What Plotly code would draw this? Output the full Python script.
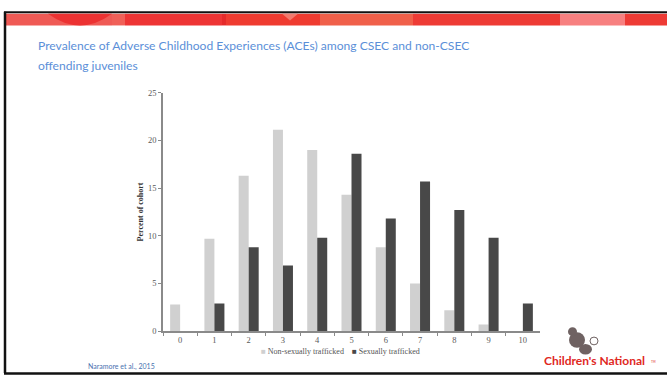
import plotly.graph_objects as go

W, H = 667, 382

categories = ["0", "1", "2", "3", "4", "5", "6", "7", "8", "9", "10"]
non_sex_trafficked = [2.8, 9.7, 16.3, 21.1, 19.0, 14.3, 8.8, 5.0, 2.2, 0.7, 0.0]
sex_trafficked = [0.0, 2.9, 8.8, 6.9, 9.8, 18.6, 11.8, 15.7, 12.7, 9.8, 2.9]
y_ticks = [0, 5, 10, 15, 20, 25]
series_names = ["Non-sexually trafficked", "Sexually trafficked"]
series_colors = ["#d0d0d0", "#484848"]

def px(x):
    return x / W

def py(y):
    return 1 - y / H

fig = go.Figure()
fig.add_trace(go.Bar(x=categories, y=non_sex_trafficked, name=series_names[0],
                     marker=dict(color=series_colors[0], line=dict(width=0))))
fig.add_trace(go.Bar(x=categories, y=sex_trafficked, name=series_names[1],
                     marker=dict(color=series_colors[1], line=dict(width=0))))

tick_font = dict(family="Liberation Serif", size=8.5, color="#5a5a5a")

fig.update_layout(
    width=W, height=H,
    margin=dict(l=0, r=0, t=0, b=0),
    paper_bgcolor="white", plot_bgcolor="white",
    showlegend=False,
    barmode="group", bargap=0.416, bargroupgap=0,
    xaxis=dict(domain=[px(163), px(540)], type="category",
               showline=True, linecolor="#8a8a8a", linewidth=1.5,
               ticks="outside", ticklen=3, tickcolor="#8a8a8a", tickson="boundaries",
               showgrid=False, zeroline=False, tickfont=tick_font, fixedrange=True),
    yaxis=dict(domain=[py(335), py(90)], range=[0, 25],
               tickvals=y_ticks, showline=True, linecolor="#8a8a8a", linewidth=1.5,
               ticks="outside", ticklen=3, tickcolor="#8a8a8a",
               showgrid=False, zeroline=False, tickfont=tick_font,
               title=dict(text="<b>Percent of cohort</b>",
                          font=dict(family="Liberation Serif", size=8, color="#333333"),
                          standoff=3)),
)

shapes = []
# red banner segments
banner = [
    (6, 50, "#ef5a55"), (50, 112, "#ef5a55"), (112, 125, "#f06058"),
    (125, 222, "#ee3535"), (222, 226, "#e52a2a"), (226, 320, "#ef3b30"),
    (320, 413, "#f0604a"), (413, 560, "#ee3b35"), (560, 625, "#f78080"),
    (625, 667, "#ee3b35"),
]
for x0, x1, c in banner:
    shapes.append(dict(type="rect", xref="paper", yref="paper",
                       x0=px(x0), x1=px(x1), y0=py(21), y1=py(9),
                       fillcolor=c, line=dict(width=0), layer="below"))
# semicircle accent (lower half inside the banner)
shapes.append(dict(type="path", xref="paper", yref="paper",
                   path=f"M {px(48)} {py(9)} Q {px(80)} {py(33)} {px(112)} {py(9)} Z",
                   fillcolor="#ec3232", line=dict(width=0), layer="below"))
# light triangle
shapes.append(dict(type="path", xref="paper", yref="paper",
                   path=f"M {px(282)} {py(9)} L {px(298)} {py(9)} L {px(290)} {py(16)} Z",
                   fillcolor="#f37a6e", line=dict(width=0), layer="below"))
# slide borders
shapes.append(dict(type="line", xref="paper", yref="paper",
                   x0=px(4), x1=1, y0=py(7.5), y1=py(7.5), line=dict(color="#111111", width=2)))
shapes.append(dict(type="line", xref="paper", yref="paper",
                   x0=px(5), x1=px(5), y0=py(7), y1=py(378), line=dict(color="#111111", width=2.5)))
shapes.append(dict(type="line", xref="paper", yref="paper",
                   x0=px(4), x1=1, y0=py(378.5), y1=py(378.5), line=dict(color="#111111", width=2.5)))
# logo figure (approximation)
logo_gray = "#6f6262"
shapes.append(dict(type="circle", xref="paper", yref="paper",
                   x0=px(569), x1=px(585), y0=py(352), y1=py(336),
                   fillcolor=logo_gray, line=dict(width=0)))
shapes.append(dict(type="circle", xref="paper", yref="paper",
                   x0=px(568), x1=px(577), y0=py(340), y1=py(331),
                   fillcolor=logo_gray, line=dict(width=0)))
shapes.append(dict(type="circle", xref="paper", yref="paper",
                   x0=px(579), x1=px(592), y0=py(359), y1=py(348),
                   fillcolor=logo_gray, line=dict(width=0)))
shapes.append(dict(type="circle", xref="paper", yref="paper",
                   x0=px(590), x1=px(598), y0=py(349), y1=py(341),
                   fillcolor="white", line=dict(color=logo_gray, width=1)))
fig.update_layout(shapes=shapes)

title_font = dict(family="Lato", size=12.1, color="#5b8fd8")
annotations = [
    dict(text="Prevalence of Adverse Childhood Experiences (ACEs) among CSEC and non-CSEC",
         xref="paper", yref="paper", x=px(36), y=py(42), xanchor="left", yanchor="middle",
         align="left", showarrow=False, font=title_font),
    dict(text="offending juveniles",
         xref="paper", yref="paper", x=px(36), y=py(62), xanchor="left", yanchor="middle",
         align="left", showarrow=False, font=title_font),
    dict(text=(f"<span style='color:{series_colors[0]}'>■</span> {series_names[0]}"
               f"&nbsp;&nbsp;&nbsp;&nbsp;<span style='color:{series_colors[1]}'>■</span> {series_names[1]}"),
         xref="paper", yref="paper", x=px(340), y=py(356), xanchor="center", yanchor="middle",
         showarrow=False, font=dict(family="Liberation Serif", size=8, color="#555555")),
    dict(text="Naramore et al., 2015", xref="paper", yref="paper",
         x=px(86), y=py(371), xanchor="left", yanchor="middle", showarrow=False,
         font=dict(family="Lato", size=7, color="#4a72b0")),
    dict(text="<b>Children's National</b>", xref="paper", yref="paper",
         x=px(542), y=py(365), xanchor="left", yanchor="middle", showarrow=False,
         font=dict(family="Lato", size=12, color="#e0281e")),
    dict(text="TM", xref="paper", yref="paper",
         x=px(649), y=py(367), xanchor="left", yanchor="middle", showarrow=False,
         font=dict(family="Lato", size=3, color="#e0281e")),
]
fig.update_layout(annotations=annotations)

fig.write_html("out.html")
